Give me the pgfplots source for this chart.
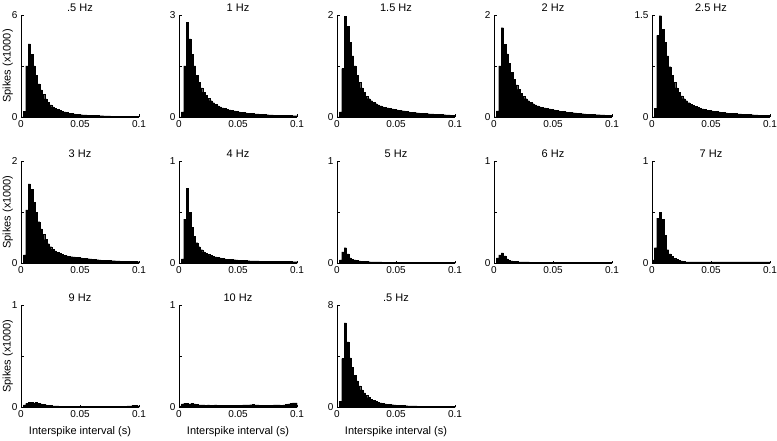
\documentclass[border=0pt]{standalone}
\usepackage{fontspec}
\setmainfont{Liberation Sans}
\usepackage{pgfplots}
\usepackage{pgfplotstable}
\pgfplotsset{compat=1.18}

% spike counts (x1000) per 2 ms bin, 0 to 0.1 s; last entry closes the final bin
\pgfplotstableread[row sep=\\]{n\\
0\\ 0.33\\ 3.0\\ 4.3\\ 3.7\\ 3.0\\ 2.45\\ 1.95\\ 1.6\\ 1.33\\
1.07\\ 0.88\\ 0.72\\ 0.6\\ 0.52\\ 0.45\\ 0.39\\ 0.34\\ 0.3\\ 0.26\\
0.23\\ 0.21\\ 0.19\\ 0.17\\ 0.15\\ 0.14\\ 0.13\\ 0.12\\ 0.11\\ 0.1\\
0.095\\ 0.09\\ 0.085\\ 0.08\\ 0.075\\ 0.07\\ 0.066\\ 0.062\\ 0.058\\ 0.055\\
0.052\\ 0.05\\ 0.048\\ 0.046\\ 0.044\\ 0.042\\ 0.04\\ 0.038\\ 0.036\\ 0.035\\ 0.035\\
}\hzA
\pgfplotstableread[row sep=\\]{n\\
0\\ 0.15\\ 1.5\\ 2.79\\ 2.3\\ 1.85\\ 1.5\\ 1.23\\ 1.02\\ 0.86\\
0.73\\ 0.63\\ 0.55\\ 0.48\\ 0.42\\ 0.37\\ 0.33\\ 0.3\\ 0.27\\ 0.25\\
0.23\\ 0.21\\ 0.19\\ 0.18\\ 0.17\\ 0.15\\ 0.14\\ 0.13\\ 0.12\\ 0.115\\
0.11\\ 0.1\\ 0.095\\ 0.09\\ 0.085\\ 0.08\\ 0.075\\ 0.07\\ 0.066\\ 0.062\\
0.058\\ 0.055\\ 0.052\\ 0.05\\ 0.048\\ 0.046\\ 0.044\\ 0.042\\ 0.04\\ 0.04\\ 0.04\\
}\hzB
\pgfplotstableread[row sep=\\]{n\\
0\\ 0.1\\ 0.95\\ 1.98\\ 1.78\\ 1.46\\ 1.2\\ 1.0\\ 0.82\\ 0.68\\
0.57\\ 0.48\\ 0.41\\ 0.36\\ 0.32\\ 0.29\\ 0.26\\ 0.24\\ 0.22\\ 0.2\\
0.19\\ 0.18\\ 0.17\\ 0.16\\ 0.15\\ 0.14\\ 0.13\\ 0.125\\ 0.12\\ 0.11\\
0.1\\ 0.095\\ 0.09\\ 0.085\\ 0.08\\ 0.077\\ 0.074\\ 0.07\\ 0.066\\ 0.062\\
0.06\\ 0.057\\ 0.054\\ 0.05\\ 0.048\\ 0.045\\ 0.042\\ 0.04\\ 0.037\\ 0.035\\ 0.035\\
}\hzC
\pgfplotstableread[row sep=\\]{n\\
0\\ 0.12\\ 1.0\\ 1.75\\ 1.43\\ 1.24\\ 1.05\\ 0.88\\ 0.74\\ 0.63\\
0.54\\ 0.47\\ 0.41\\ 0.36\\ 0.32\\ 0.29\\ 0.26\\ 0.24\\ 0.22\\ 0.2\\
0.19\\ 0.18\\ 0.17\\ 0.16\\ 0.15\\ 0.14\\ 0.13\\ 0.12\\ 0.115\\ 0.11\\
0.1\\ 0.095\\ 0.09\\ 0.085\\ 0.08\\ 0.075\\ 0.07\\ 0.066\\ 0.062\\ 0.058\\
0.055\\ 0.052\\ 0.05\\ 0.047\\ 0.045\\ 0.042\\ 0.04\\ 0.037\\ 0.035\\ 0.033\\ 0.033\\
}\hzD
\pgfplotstableread[row sep=\\]{n\\
0\\ 0.13\\ 1.2\\ 1.49\\ 1.29\\ 1.1\\ 0.9\\ 0.74\\ 0.61\\ 0.51\\
0.43\\ 0.36\\ 0.31\\ 0.27\\ 0.24\\ 0.21\\ 0.19\\ 0.17\\ 0.155\\ 0.14\\
0.13\\ 0.12\\ 0.11\\ 0.1\\ 0.095\\ 0.09\\ 0.085\\ 0.08\\ 0.075\\ 0.07\\
0.066\\ 0.062\\ 0.058\\ 0.055\\ 0.052\\ 0.05\\ 0.047\\ 0.045\\ 0.042\\ 0.04\\
0.038\\ 0.036\\ 0.034\\ 0.032\\ 0.03\\ 0.029\\ 0.028\\ 0.027\\ 0.026\\ 0.025\\ 0.025\\
}\hzE
\pgfplotstableread[row sep=\\]{n\\
0\\ 0.16\\ 1.04\\ 1.55\\ 1.44\\ 1.19\\ 0.99\\ 0.81\\ 0.67\\ 0.56\\
0.46\\ 0.38\\ 0.32\\ 0.27\\ 0.24\\ 0.21\\ 0.19\\ 0.17\\ 0.155\\ 0.14\\
0.13\\ 0.125\\ 0.12\\ 0.115\\ 0.11\\ 0.1\\ 0.095\\ 0.09\\ 0.085\\ 0.08\\
0.075\\ 0.07\\ 0.066\\ 0.062\\ 0.058\\ 0.055\\ 0.052\\ 0.05\\ 0.047\\ 0.045\\
0.042\\ 0.04\\ 0.038\\ 0.036\\ 0.034\\ 0.032\\ 0.03\\ 0.03\\ 0.028\\ 0.027\\ 0.027\\
}\hzF
\pgfplotstableread[row sep=\\]{n\\
0\\ 0.04\\ 0.43\\ 0.73\\ 0.5\\ 0.35\\ 0.26\\ 0.2\\ 0.16\\ 0.13\\
0.11\\ 0.095\\ 0.085\\ 0.075\\ 0.065\\ 0.06\\ 0.055\\ 0.05\\ 0.045\\ 0.04\\
0.038\\ 0.036\\ 0.034\\ 0.032\\ 0.03\\ 0.028\\ 0.026\\ 0.025\\ 0.024\\ 0.023\\
0.022\\ 0.021\\ 0.02\\ 0.02\\ 0.019\\ 0.019\\ 0.018\\ 0.018\\ 0.017\\ 0.017\\
0.016\\ 0.016\\ 0.015\\ 0.015\\ 0.015\\ 0.014\\ 0.014\\ 0.014\\ 0.013\\ 0.013\\ 0.013\\
}\hzG
\pgfplotstableread[row sep=\\]{n\\
0\\ 0.03\\ 0.11\\ 0.15\\ 0.09\\ 0.05\\ 0.035\\ 0.03\\ 0.025\\ 0.02\\
0.018\\ 0.016\\ 0.014\\ 0.013\\ 0.012\\ 0.011\\ 0.01\\ 0.01\\ 0.01\\ 0.009\\
0.009\\ 0.009\\ 0.009\\ 0.008\\ 0.008\\ 0.008\\ 0.008\\ 0.008\\ 0.008\\ 0.008\\
0.008\\ 0.008\\ 0.008\\ 0.008\\ 0.008\\ 0.008\\ 0.008\\ 0.008\\ 0.008\\ 0.008\\
0.008\\ 0.008\\ 0.008\\ 0.008\\ 0.008\\ 0.008\\ 0.008\\ 0.008\\ 0.008\\ 0.008\\ 0.008\\
}\hzH
\pgfplotstableread[row sep=\\]{n\\
0\\ 0.05\\ 0.08\\ 0.1\\ 0.07\\ 0.04\\ 0.025\\ 0.02\\ 0.016\\ 0.014\\
0.012\\ 0.011\\ 0.01\\ 0.01\\ 0.01\\ 0.009\\ 0.009\\ 0.009\\ 0.008\\ 0.008\\
0.008\\ 0.008\\ 0.008\\ 0.008\\ 0.008\\ 0.008\\ 0.008\\ 0.008\\ 0.008\\ 0.008\\
0.008\\ 0.008\\ 0.008\\ 0.008\\ 0.008\\ 0.008\\ 0.008\\ 0.008\\ 0.008\\ 0.008\\
0.008\\ 0.008\\ 0.008\\ 0.008\\ 0.008\\ 0.008\\ 0.008\\ 0.008\\ 0.008\\ 0.008\\ 0.008\\
}\hzI
\pgfplotstableread[row sep=\\]{n\\
0.03\\ 0.15\\ 0.44\\ 0.5\\ 0.43\\ 0.27\\ 0.13\\ 0.09\\ 0.065\\ 0.045\\
0.035\\ 0.025\\ 0.02\\ 0.015\\ 0.012\\ 0.011\\ 0.01\\ 0.01\\ 0.01\\ 0.01\\
0.01\\ 0.01\\ 0.01\\ 0.01\\ 0.01\\ 0.01\\ 0.01\\ 0.01\\ 0.01\\ 0.01\\
0.012\\ 0.01\\ 0.01\\ 0.012\\ 0.01\\ 0.01\\ 0.01\\ 0.012\\ 0.01\\ 0.01\\
0.01\\ 0.01\\ 0.012\\ 0.01\\ 0.01\\ 0.01\\ 0.01\\ 0.012\\ 0.01\\ 0.01\\ 0.01\\
}\hzJ
\pgfplotstableread[row sep=\\]{n\\
0\\ 0.02\\ 0.035\\ 0.045\\ 0.045\\ 0.04\\ 0.045\\ 0.035\\ 0.03\\ 0.025\\
0.02\\ 0.018\\ 0.015\\ 0.012\\ 0.01\\ 0.01\\ 0.009\\ 0.009\\ 0.009\\ 0.009\\
0.008\\ 0.008\\ 0.008\\ 0.008\\ 0.008\\ 0.008\\ 0.008\\ 0.008\\ 0.008\\ 0.008\\
0.008\\ 0.008\\ 0.008\\ 0.008\\ 0.008\\ 0.008\\ 0.008\\ 0.008\\ 0.008\\ 0.008\\
0.008\\ 0.008\\ 0.008\\ 0.008\\ 0.008\\ 0.01\\ 0.012\\ 0.015\\ 0.015\\ 0.012\\ 0.012\\
}\hzK
\pgfplotstableread[row sep=\\]{n\\
0.01\\ 0.03\\ 0.035\\ 0.035\\ 0.03\\ 0.035\\ 0.03\\ 0.025\\ 0.022\\ 0.02\\
0.02\\ 0.018\\ 0.02\\ 0.018\\ 0.017\\ 0.02\\ 0.018\\ 0.016\\ 0.017\\ 0.015\\
0.016\\ 0.015\\ 0.014\\ 0.015\\ 0.016\\ 0.015\\ 0.018\\ 0.02\\ 0.022\\ 0.02\\
0.023\\ 0.025\\ 0.022\\ 0.02\\ 0.018\\ 0.017\\ 0.016\\ 0.015\\ 0.016\\ 0.018\\
0.02\\ 0.022\\ 0.02\\ 0.018\\ 0.02\\ 0.025\\ 0.03\\ 0.035\\ 0.04\\ 0.04\\ 0.04\\
}\hzL
\pgfplotstableread[row sep=\\]{n\\
0\\ 0.44\\ 3.8\\ 6.6\\ 5.1\\ 3.86\\ 3.1\\ 2.5\\ 2.05\\ 1.65\\
1.35\\ 1.1\\ 0.9\\ 0.74\\ 0.62\\ 0.52\\ 0.44\\ 0.38\\ 0.33\\ 0.29\\
0.25\\ 0.22\\ 0.2\\ 0.18\\ 0.16\\ 0.145\\ 0.13\\ 0.12\\ 0.11\\ 0.1\\
0.095\\ 0.09\\ 0.085\\ 0.08\\ 0.075\\ 0.07\\ 0.066\\ 0.062\\ 0.058\\ 0.055\\
0.052\\ 0.05\\ 0.048\\ 0.046\\ 0.044\\ 0.042\\ 0.04\\ 0.038\\ 0.036\\ 0.035\\ 0.035\\
}\hzM

\pgfplotsset{
  isi/.style={
    scale only axis, width=118pt, height=102pt,
    xmin=0, xmax=0.1, ymin=0,
    axis x line*=bottom, axis y line*=left,
    axis line style={-, line width=0.7pt},
    xtick={0,0.05,0.1}, xticklabels={0,0.05,0.1},
    tick align=inside, major tick length=2.5pt,
    tick style={black, line width=0.5pt},
    /pgf/number format/assume math mode=true,
    ticklabel style={font=\fontsize{10}{12}\selectfont},
    every axis title shift=0pt,
    title style={font=\fontsize{11}{13}\selectfont, inner sep=1pt, yshift=2pt},
    label style={font=\fontsize{11}{13}\selectfont},
    ylabel style={at={(axis description cs:-0.112,0.5)}, anchor=center},
    xlabel style={yshift=-2pt},
  },
}

% #1 x, #2 y of the lower left corner, #3 title, #4 ymax, #5 middle tick, #6 table, #7 extras
\newcommand{\isipanel}[7]{%
\begin{axis}[isi, at={(#1pt,#2pt)}, anchor=south west, title={#3},
  ymax=#4, ytick={0,#5,#4}, yticklabels={0,,#4}, #7]
\addplot[ybar interval, fill=black, draw=black, line width=0.2pt]
  table[x expr=\coordindex*0.002, y index=0] {#6};
\end{axis}}

\begin{document}
\begin{tikzpicture}
\path[use as bounding box] (0,0) rectangle (777pt,-441pt);
\isipanel{21}{-117}{.5 Hz}{6}{3}{\hzA}{ylabel={Spikes (x1000)}}
\isipanel{179}{-117}{1 Hz}{3}{1.5}{\hzB}{}
\isipanel{337}{-117}{1.5 Hz}{2}{1}{\hzC}{}
\isipanel{494}{-117}{2 Hz}{2}{1}{\hzD}{}
\isipanel{652}{-117}{2.5 Hz}{1.5}{0.75}{\hzE}{}
\isipanel{21}{-263}{3 Hz}{2}{1}{\hzF}{ylabel={Spikes (x1000)}}
\isipanel{179}{-263}{4 Hz}{1}{0.5}{\hzG}{}
\isipanel{337}{-263}{5 Hz}{1}{0.5}{\hzH}{}
\isipanel{494}{-263}{6 Hz}{1}{0.5}{\hzI}{}
\isipanel{652}{-263}{7 Hz}{1}{0.5}{\hzJ}{}
\isipanel{21}{-407}{9 Hz}{1}{0.5}{\hzK}{ylabel={Spikes (x1000)}, xlabel={Interspike interval (s)}}
\isipanel{179}{-407}{10 Hz}{1}{0.5}{\hzL}{xlabel={Interspike interval (s)}}
\isipanel{337}{-407}{.5 Hz}{8}{4}{\hzM}{xlabel={Interspike interval (s)}}
\end{tikzpicture}
\end{document}
